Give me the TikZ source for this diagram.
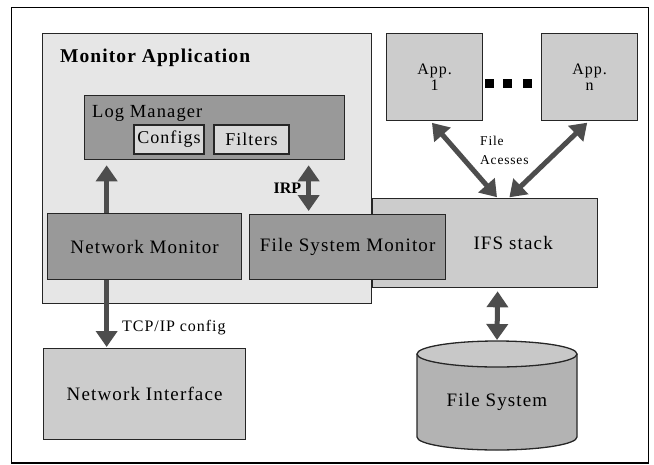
\documentclass[tikz,border=0pt]{standalone}
\usepackage{fontspec}
\setmainfont{Liberation Serif}[LetterSpace=6]
\usetikzlibrary{arrows.meta,calc}
\definecolor{appbg}{HTML}{E6E6E6}
\definecolor{dk}{HTML}{999999}
\definecolor{md}{HTML}{CCCCCC}
\definecolor{lt}{HTML}{D9D9D9}
\definecolor{cylb}{HTML}{B3B3B3}
\definecolor{cylt}{HTML}{C8C8C8}
\definecolor{arr}{HTML}{4D4D4D}
\definecolor{edge}{HTML}{262626}
\tikzset{
  box/.style={draw=edge, line width=1.3pt, inner sep=0pt, anchor=north west, font=\fontsize{19}{22}\selectfont},
  bigarr/.style={draw=arr, line width=5pt, -{Triangle[width=21pt,length=16pt]}},
  bigdarr/.style={draw=arr, line width=5pt, {Triangle[width=21pt,length=16pt]}-{Triangle[width=21pt,length=16pt]}},
}
\begin{document}
\begin{tikzpicture}[x=1pt,y=-1pt]
\useasboundingbox (0,0) rectangle (654,464);
\draw[line width=1.3pt, black] (11.5,7.5) rectangle (648.5,463);
% Monitor application
\node[box, fill=appbg, minimum width=329pt, minimum height=270pt] (mon) at (42,33) {};
\node[anchor=base west, inner sep=0pt, font=\fontsize{19.5}{22}\selectfont\bfseries\addfontfeatures{LetterSpace=5.5}] (montitle) at (60,62.5) {Monitor Application};
% Log manager
\node[box, fill=dk, minimum width=260pt, minimum height=64pt] (lm) at (84,95) {};
\node[anchor=base west, inner sep=0pt, font=\fontsize{18.5}{22}\selectfont] (lmtitle) at (92,117) {Log Manager};
\node[box, fill=lt, minimum width=70pt, minimum height=29pt, anchor=center, font=\fontsize{18}{20}\selectfont] (cfg) at (169,139.5) {Configs};
\node[box, fill=lt, minimum width=75pt, minimum height=29pt, anchor=center, font=\fontsize{18}{20}\selectfont] (flt) at (251.5,139.5) {Filters};
% IFS stack
\node[box, fill=md, minimum width=225pt, minimum height=89pt, label={[xshift=28pt, font=\fontsize{19}{22}\selectfont]center:IFS stack}] (ifs) at (372,198) {};
% Monitors
\node[box, fill=dk, minimum width=194pt, minimum height=66pt] (nm) at (47,213) {Network Monitor};
\node[box, fill=dk, minimum width=196pt, minimum height=65pt] (fsm) at (249,214) {File System Monitor};
% Apps
\node[box, fill=md, minimum width=96pt, minimum height=87pt, align=center, text depth=0pt, font=\fontsize{16}{20}\selectfont] (app1) at (386,33) {\raisebox{-3pt}{App.}\\[-1pt]1};
\node[box, fill=md, minimum width=96pt, minimum height=87pt, align=center, text depth=0pt, font=\fontsize{16}{20}\selectfont] (appn) at (541,33) {\raisebox{-3pt}{App.}\\[-1pt]n};
\fill[black] (485,79) rectangle (494,88);
\fill[black] (503,79) rectangle (512,88);
\fill[black] (523,79) rectangle (532,88);
% Network interface
\node[box, fill=md, minimum width=202pt, minimum height=91pt] (ni) at (43,348) {Network Interface};
% File system cylinder
\fill[cylb] (417,354) -- (417,437) arc[start angle=180, end angle=0, x radius=80, y radius=13] -- (577,354) -- cycle;
\draw[edge, line width=1.3pt] (417,354) -- (417,437) arc[start angle=180, end angle=0, x radius=80, y radius=13] -- (577,354);
\draw[edge, line width=1.3pt, fill=cylt] (497,354) ellipse[x radius=80, y radius=13];
\coordinate (fstop) at (497,341);
\node[inner sep=0pt, font=\fontsize{19}{22}\selectfont] (fs) at (497,402) {File System};
% Arrows
\draw[bigarr, shorten >=5pt] ([xshift=-38pt]nm.north) -- ([xshift=-38pt]nm.north |- lm.south);
\draw[bigdarr, shorten >=5pt, shorten <=3pt] ([xshift=-39pt]fsm.north) -- ([xshift=-39pt]fsm.north |- lm.south)
  node[pos=0.48, anchor=east, inner sep=0pt, xshift=-5pt, font=\fontsize{16}{18}\selectfont\bfseries\addfontfeatures{LetterSpace=0}] (irp) {IRP};
\draw[bigarr, shorten >=1pt] ([xshift=-38pt]nm.south) -- ([xshift=-38pt]nm.south |- ni.north)
  node[pos=0.7, anchor=west, inner sep=0pt, xshift=13pt, font=\fontsize{16}{18}\selectfont] (tcp) {TCP/IP config};
\draw[bigdarr, shorten <=3pt, shorten >=1pt] ([xshift=12.5pt]ifs.south) -- (fstop);
\draw[bigdarr, shorten <=2pt, shorten >=1pt] ([xshift=-4pt]app1.south) -- ([xshift=12.5pt]ifs.north);
\draw[bigdarr, shorten <=2pt, shorten >=1pt] ([xshift=-1pt]appn.south) -- ([xshift=23.5pt]ifs.north);
\node[anchor=north west, inner sep=0pt, align=left, font=\fontsize{13.5}{19}\selectfont] (fa) at (480,136) {File\\Acesses};
\end{tikzpicture}
\end{document}
